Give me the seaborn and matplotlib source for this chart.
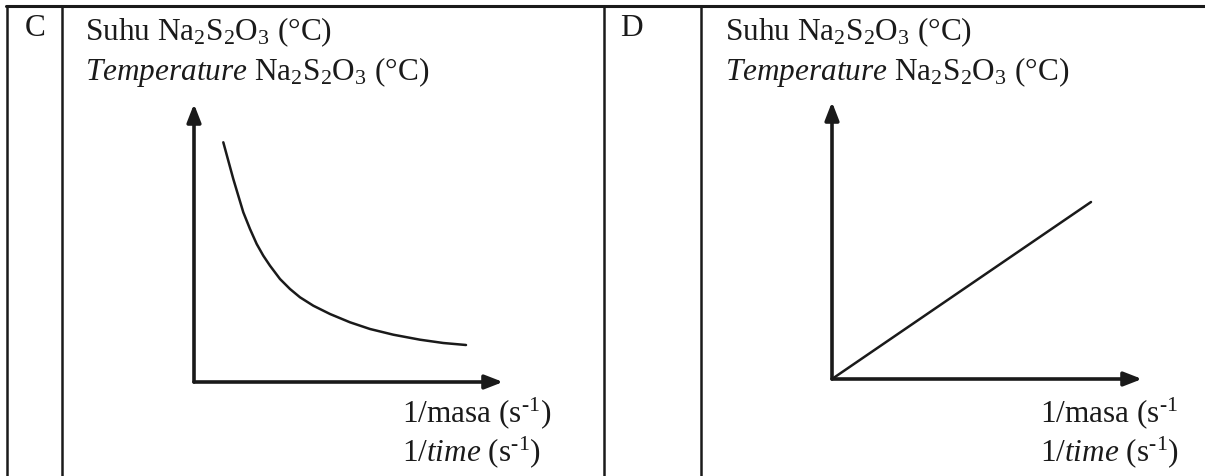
import matplotlib
matplotlib.use("Agg")
import matplotlib.pyplot as plt
import seaborn as sns
from matplotlib.lines import Line2D

sns.set_theme(style="white")
plt.rcParams['font.family'] = ['Liberation Serif', 'DejaVu Serif']
plt.rcParams['mathtext.fontset'] = 'custom'
plt.rcParams['mathtext.rm'] = 'Liberation Serif'
plt.rcParams['mathtext.it'] = 'Liberation Serif:italic'

W, H = 1205, 477

# ---- data (in arbitrary units) ----
panel_labels = ["C", "D"]
y_label_1 = "Suhu Na$_2$S$_2$O$_3$ (°C)"
y_label_2 = "$\\it{Temperature}$ Na$_2$S$_2$O$_3$ (°C)"
x_label_C = ["1/masa (s$^{\\text{-}1}$)", "1/$\\it{time}$ (s$^{\\text{-}1}$)"]
x_label_D = ["1/masa (s$^{\\text{-}1}$", "1/$\\it{time}$ (s$^{\\text{-}1}$)"]

curve_x = [29.3, 34.3, 39.3, 44.3, 49.3, 56, 62.7, 69.3, 76, 86, 96, 106,
           119.3, 136, 156, 176, 199.3, 226, 249.3, 272]
curve_y = [239.7, 221.3, 203, 186.3, 169.7, 153, 138, 126.3, 116.3, 103, 93, 84.7,
           76.3, 68, 59.7, 53, 47.3, 42.3, 39, 37]

line_x = [0, 259]
line_y = [0, 177]

INK = "#1a1a1a"

fig = plt.figure(figsize=(W / 100, H / 100), dpi=100)
fig.patch.set_facecolor("white")


def fx(px):
    return px / W


def fy(py):
    return 1 - py / H


def hline(x0, x1, y, lw=2.0):
    fig.add_artist(Line2D([fx(x0), fx(x1)], [fy(y), fy(y)], color=INK, lw=lw,
                          transform=fig.transFigure))


def vline(x, y0, y1, lw=1.8):
    fig.add_artist(Line2D([fx(x), fx(x)], [fy(y0), fy(y1)], color=INK, lw=lw,
                          transform=fig.transFigure))


hline(6, W, 7, lw=2.2)
for xv in [7, 62, 604, 701]:
    vline(xv, 7, H)

fs = 22.5
fig.text(fx(35), fy(29), panel_labels[0], fontsize=fs, ha="center", va="center", color=INK)
fig.text(fx(631), fy(29), panel_labels[1], fontsize=fs, ha="center", va="center", color=INK)

for x0 in [85, 725]:
    fig.text(fx(x0), fy(32), y_label_1, fontsize=fs, ha="left", va="center", color=INK)
    fig.text(fx(x0), fy(72), y_label_2, fontsize=fs, ha="left", va="center", color=INK)

fig.text(fx(402), fy(413), x_label_C[0], fontsize=fs, ha="left", va="center", color=INK)
fig.text(fx(402), fy(452), x_label_C[1], fontsize=fs, ha="left", va="center", color=INK)
fig.text(fx(1040), fy(413), x_label_D[0], fontsize=fs, ha="left", va="center", color=INK)
fig.text(fx(1040), fy(452), x_label_D[1], fontsize=fs, ha="left", va="center", color=INK)


def make_axes(ox, oy, tipx, tipy):
    w = tipx - ox
    h = oy - tipy
    ax = fig.add_axes([fx(ox), fy(oy), w / W, h / H])
    ax.set_xlim(0, w)
    ax.set_ylim(0, h)
    ax.set_facecolor("none")
    for s in ax.spines.values():
        s.set_visible(False)
    ax.set_xticks([])
    ax.set_yticks([])
    ap = dict(arrowstyle="-|>,head_length=0.9,head_width=0.35", color=INK, lw=2.6,
              shrinkA=0, shrinkB=0)
    ax.annotate("", xy=(w, 0), xytext=(0, 0), arrowprops=ap, annotation_clip=False)
    ax.annotate("", xy=(0, h), xytext=(0, 0), arrowprops=ap, annotation_clip=False)
    return ax


axC = make_axes(194, 383, 503, 105)
sns.lineplot(x=curve_x, y=curve_y, ax=axC, color=INK, lw=1.8, sort=False,
             estimator=None, solid_capstyle="round", solid_joinstyle="round")
axC.set_xlabel(""); axC.set_ylabel("")

axD = make_axes(832, 380, 1142, 103)
sns.lineplot(x=line_x, y=line_y, ax=axD, color=INK, lw=1.8, sort=False, estimator=None)
axD.set_xlabel(""); axD.set_ylabel("")

fig.savefig("out.png", dpi=100, facecolor="white")
